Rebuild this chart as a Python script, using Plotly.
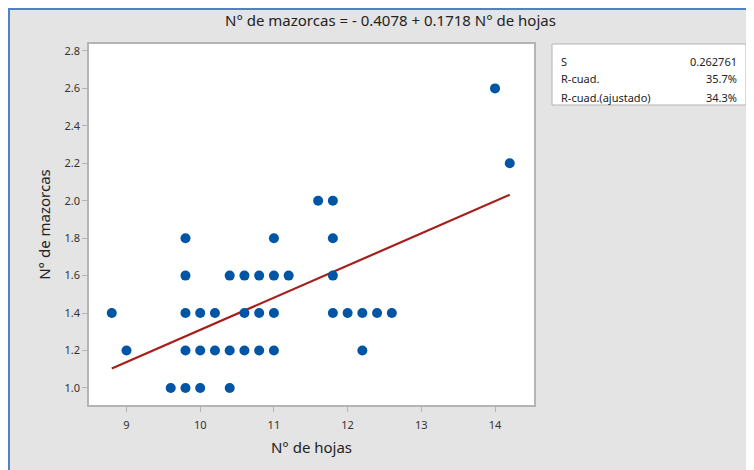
import plotly.graph_objects as go

# N° de hojas / N° de mazorcas (puntos observados)
hojas = [8.8, 9.0, 9.6,
         9.8, 9.8, 9.8, 9.8, 9.8,
         10.0, 10.0, 10.0,
         10.2, 10.2,
         10.4, 10.4, 10.4,
         10.6, 10.6, 10.6,
         10.8, 10.8, 10.8,
         11.0, 11.0, 11.0, 11.0,
         11.2, 11.6,
         11.8, 11.8, 11.8, 11.8,
         12.0, 12.2, 12.2, 12.4, 12.6,
         14.0, 14.2]
mazorcas = [1.4, 1.2, 1.0,
            1.0, 1.2, 1.4, 1.6, 1.8,
            1.0, 1.2, 1.4,
            1.2, 1.4,
            1.0, 1.2, 1.6,
            1.2, 1.4, 1.6,
            1.2, 1.4, 1.6,
            1.2, 1.4, 1.6, 1.8,
            1.6, 2.0,
            1.4, 1.6, 1.8, 2.0,
            1.4, 1.2, 1.4, 1.4, 1.4,
            2.6, 2.2]

intercepto = -0.4078
pendiente = 0.1718

stat_names = ["S", "R-cuad.", "R-cuad.(ajustado)"]
stat_values = ["0.262761", "35.7%", "34.3%"]

x_ticks = [9, 10, 11, 12, 13, 14]
y_ticks = [1.0, 1.2, 1.4, 1.6, 1.8, 2.0, 2.2, 2.4, 2.6, 2.8]

font = "Noto Sans"
txt = "#333333"

x_line = [min(hojas), max(hojas)]
y_line = [intercepto + pendiente * x for x in x_line]

fig = go.Figure()
fig.add_trace(go.Scatter(x=x_line, y=y_line, mode="lines",
                         line=dict(color="#a51f1b", width=2.2), hoverinfo="skip"))
fig.add_trace(go.Scatter(x=hojas, y=mazorcas, mode="markers",
                         marker=dict(color="#0055a5", size=10)))

# page body has an 8px margin, so the figure starts at (8, 8) in the window
OFF = 8
W, H = 754 - OFF, 470 - OFF
L, R, T, B = 89 - OFF, W - (534 - OFF), 44 - OFF, H - (405 - OFF)
pw = W - L - R
ph = H - T - B


def px_x(p):
    return (p - OFF - L) / pw


def px_y(p):
    return (H - B - (p - OFF)) / ph


shapes = [
    # blue frame of the panel (left and top)
    dict(type="line", xref="paper", yref="paper", layer="below",
         x0=px_x(9), x1=px_x(9), y0=px_y(480), y1=px_y(9),
         line=dict(color="#4f81c7", width=2)),
    dict(type="line", xref="paper", yref="paper", layer="below",
         x0=px_x(8), x1=px_x(770), y0=px_y(9), y1=px_y(9),
         line=dict(color="#4f81c7", width=2)),
    # stats box
    dict(type="rect", xref="paper", yref="paper", layer="below",
         x0=px_x(552), x1=px_x(746), y0=px_y(105), y1=px_y(44),
         fillcolor="white", line=dict(color="#b4b4b4", width=1)),
]

annotations = [
    dict(text="N° de mazorcas = - 0.4078 + 0.1718 N° de hojas", xref="paper", yref="paper",
         x=px_x(390), y=px_y(20), showarrow=False, xanchor="center", yanchor="middle",
         font=dict(family=font, size=15, color="#222222")),
]
for i, (n, v) in enumerate(zip(stat_names, stat_values)):
    yy = px_y(61 + i * 18)
    annotations.append(dict(text=n, xref="paper", yref="paper", x=px_x(559), y=yy,
                            showarrow=False, xanchor="left", yanchor="middle",
                            font=dict(family=font, size=11, color="#222222")))
    annotations.append(dict(text=v, xref="paper", yref="paper", x=px_x(739), y=yy,
                            showarrow=False, xanchor="right", yanchor="middle",
                            font=dict(family=font, size=11, color="#222222")))

fig.update_layout(
    width=W, height=H,
    margin=dict(l=L, r=R, t=T, b=B),
    paper_bgcolor="#e4e4e4", plot_bgcolor="white",
    showlegend=False,
    font=dict(family=font, color=txt),
    shapes=shapes, annotations=annotations,
    xaxis=dict(range=[8.491, 14.529], tickvals=x_ticks, showgrid=False, zeroline=False,
               showline=True, mirror=True, linecolor="#b4b4b4", linewidth=1.5,
               ticks="outside", ticklen=5, tickcolor="#b4b4b4", ticklabelstandoff=4,
               tickfont=dict(size=11, color=txt),
               title=dict(text="N° de hojas", font=dict(size=15, color="#222222"), standoff=12)),
    yaxis=dict(range=[0.909, 2.837], tickvals=y_ticks, tickformat=".1f",
               showgrid=False, zeroline=False,
               showline=True, mirror=True, linecolor="#b4b4b4", linewidth=1.5,
               ticks="outside", ticklen=5, tickcolor="#b4b4b4",
               tickfont=dict(size=11, color=txt),
               title=dict(text="N° de mazorcas", font=dict(size=15, color="#222222"), standoff=10)),
)

fig.write_html("out.html")
